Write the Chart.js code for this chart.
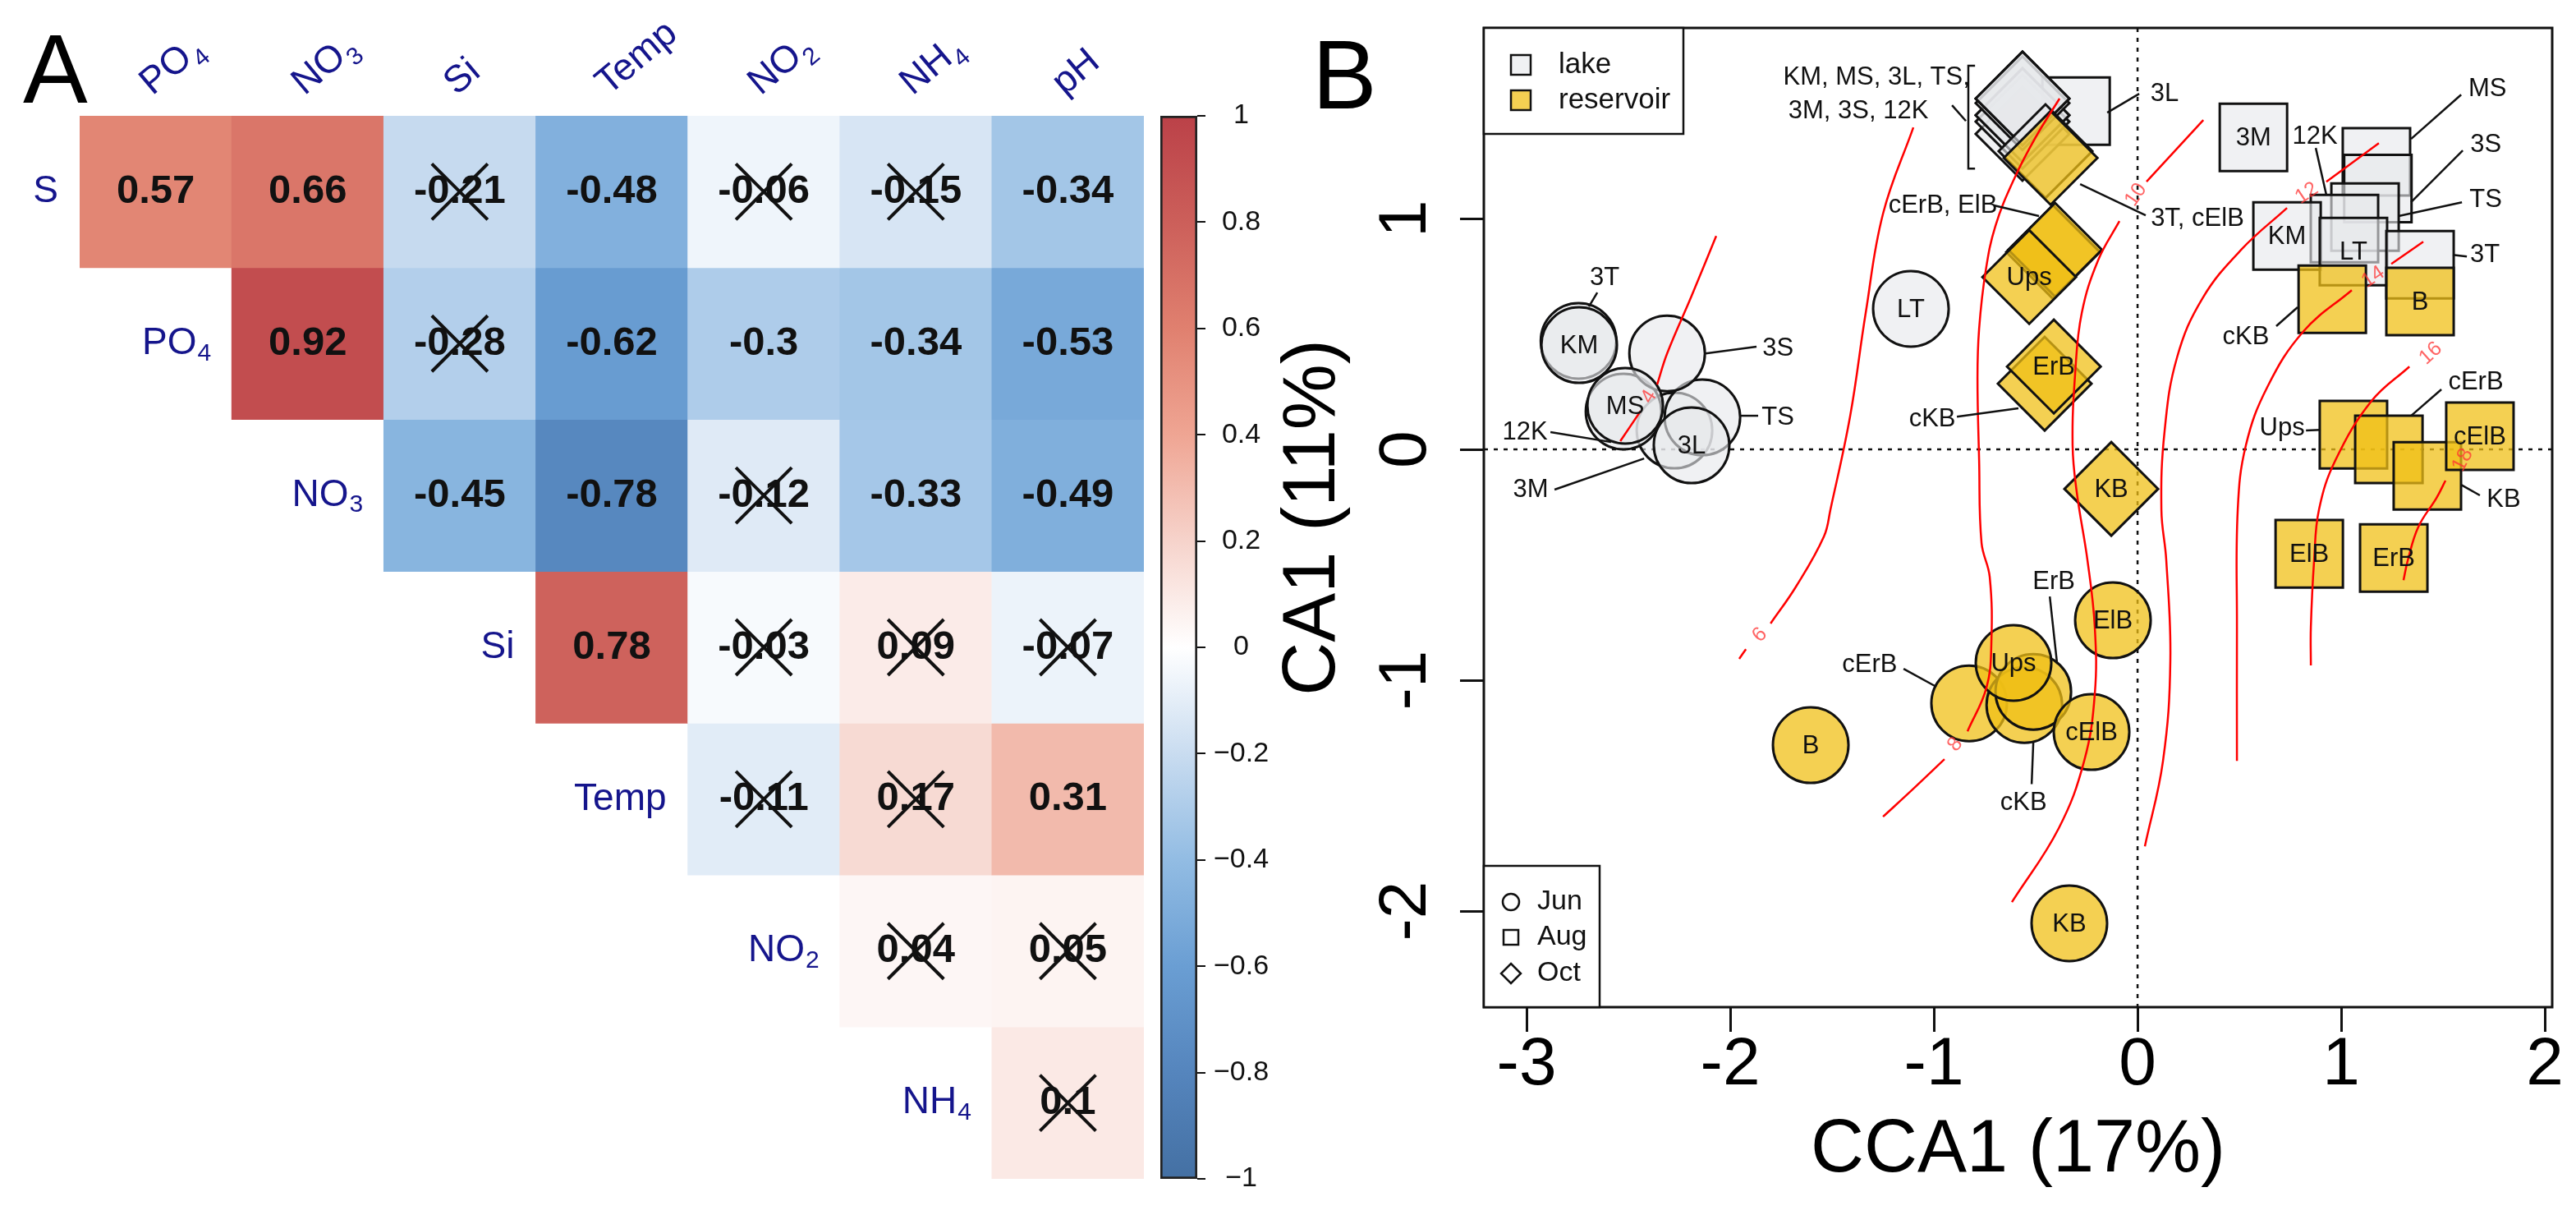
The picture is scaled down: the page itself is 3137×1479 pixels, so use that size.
<!DOCTYPE html>
<html>
<head>
<meta charset="utf-8">
<title>Correlation matrix and CCA ordination</title>
<script src="https://cdn.jsdelivr.net/npm/chart.js@4.4.1/dist/chart.umd.min.js"></script>
<style>
  html, body { margin: 0; padding: 0; background: #fff; }
  #figure { position: relative; width: 3137px; height: 1479px; overflow: hidden; background: #fff; }
  #figure canvas { position: absolute; top: 0; }
  #heat { left: 0; }
  #cca { left: 1540px; }
  #colorbar { left: 1400px; }
</style>
</head>
<body>
<div id="figure">
  <canvas id="heat" width="1410" height="1479"></canvas>
  <canvas id="cca" width="1597" height="1479"></canvas>
  <canvas id="colorbar" width="170" height="1479"></canvas>
</div>
<script>
// ---------- Panel A: correlation matrix ----------
const colVars = ['PO4', 'NO3', 'Si', 'Temp', 'NO2', 'NH4', 'pH'];
const rowVars = ['S', 'PO4', 'NO3', 'Si', 'Temp', 'NO2', 'NH4'];

const corS    = [0.57, 0.66, -0.21, -0.48, -0.06, -0.15, -0.34];
const corPO4  = [0.92, -0.28, -0.62, -0.3, -0.34, -0.53];
const corNO3  = [-0.45, -0.78, -0.12, -0.33, -0.49];
const corSi   = [0.78, -0.03, 0.09, -0.07];
const corTemp = [-0.11, 0.17, 0.31];
const corNO2  = [0.04, 0.05];
const corNH4  = [0.1];

// 1 = not significant (crossed out)
const nsS    = [0, 0, 1, 0, 1, 1, 0];
const nsPO4  = [0, 1, 0, 0, 0, 0];
const nsNO3  = [0, 0, 1, 0, 0];
const nsSi   = [0, 1, 1, 1];
const nsTemp = [1, 1, 0];
const nsNO2  = [1, 1];
const nsNH4  = [1];

const corRows = [corS, corPO4, corNO3, corSi, corTemp, corNO2, corNH4];
const nsRows = [nsS, nsPO4, nsNO3, nsSi, nsTemp, nsNO2, nsNH4];
const colorbarTicks = [-1, -0.8, -0.6, -0.4, -0.2, 0, 0.2, 0.4, 0.6, 0.8, 1];

// ---------- Panel B: CCA ordination ----------
const lakeJunSites = ['3M', '12K', 'TS', '3S', '3T', 'KM', 'MS', '3L', 'LT'];
const lakeJunX = [-2.274, -2.524, -2.137, -2.310, -2.745, -2.742, -2.516, -2.190, -1.113];
const lakeJunY = [0.082, 0.164, 0.139, 0.416, 0.470, 0.452, 0.189, 0.018, 0.609];
const lakeJunInside = ['KM', 'MS', '3L', 'LT'];

const resJunSites = ['B', 'cErB', 'cKB', 'ErB', 'Ups', 'ElB', 'cElB', 'KB'];
const resJunX = [-1.605, -0.827, -0.556, -0.512, -0.609, -0.121, -0.226, -0.335];
const resJunY = [-1.281, -1.100, -1.107, -1.050, -0.925, -0.740, -1.224, -2.053];
const resJunInside = ['B', 'Ups', 'ElB', 'cElB', 'KB'];

const lakeAugSites = ['3L', '3M', 'MS', '3S', 'TS', '12K', 'KM', 'LT', '3T'];
const lakeAugX = [-0.302, 0.569, 1.173, 1.180, 1.117, 1.016, 0.734, 1.060, 1.387];
const lakeAugY = [1.466, 1.352, 1.246, 1.130, 1.007, 0.957, 0.925, 0.857, 0.800];
const lakeAugInside = ['3M', 'KM', 'LT'];

const resAugSites = ['cKB', 'B', 'Ups', 'cErB', 'KB', 'cElB', 'ElB', 'ErB'];
const resAugX = [0.956, 1.387, 1.060, 1.234, 1.423, 1.681, 0.843, 1.258];
const resAugY = [0.651, 0.641, 0.064, 0.000, -0.114, 0.057, -0.452, -0.470];
const resAugInside = ['B', 'cElB', 'ElB', 'ErB'];

const lakeOctSites = ['12K', '3S', 'TS', '3M', '3L', 'MS', 'KM', '3T'];
const lakeOctX = [-0.565, -0.565, -0.565, -0.565, -0.565, -0.565, -0.565, -0.452];
const lakeOctY = [1.367, 1.420, 1.448, 1.448, 1.500, 1.520, 1.520, 1.292];
const lakeOctInside = [];

const resOctSites = ['cElB', 'cErB', 'ElB', 'Ups', 'cKB', 'ErB', 'KB'];
const resOctX = [-0.427, -0.415, -0.405, -0.532, -0.456, -0.411, -0.129];
const resOctY = [1.263, 0.855, 0.865, 0.747, 0.285, 0.359, -0.171];
const resOctInside = ['Ups', 'ErB', 'KB'];

// fitted surface contours (null = gap for the label)
const cont4X  = [-2.069, -2.190, -2.310, -2.359, null, -2.440, -2.540];
const cont4Y  = [0.925, 0.665, 0.416, 0.281, null, 0.167, 0.036];
const cont6X  = [-1.101, -1.250, -1.335, -1.411, -1.508, -1.540, -1.677, -1.802, null, -1.923, -1.956];
const cont6Y  = [1.395, 1.021, 0.591, 0.146, -0.260, -0.377, -0.594, -0.754, null, -0.865, -0.907];
const cont8X  = [-0.383, -0.496, -0.605, -0.698, -0.746, -0.778, -0.786, -0.778, -0.766, -0.726, -0.718, -0.742, -0.835, null, -0.948, -1.101, -1.250];
const cont8Y  = [1.520, 1.359, 1.174, 0.968, 0.772, 0.523, 0.310, -0.046, -0.406, -0.552, -0.843, -1.032, -1.221, null, -1.342, -1.470, -1.591];
const cont10X = [0.323, 0.044, null, -0.089, -0.194, -0.274, -0.306, -0.319, -0.298, -0.246, -0.210, -0.210, -0.262, -0.387, -0.617];
const cont10Y = [1.427, 1.160, null, 0.989, 0.819, 0.591, 0.335, 0.018, -0.189, -0.480, -0.769, -1.060, -1.349, -1.641, -1.961];
const cont12X = [1.185, 0.927, null, 0.734, 0.512, 0.319, 0.194, 0.133, 0.117, 0.141, 0.161, 0.125, 0.036];
const cont12Y = [1.327, 1.160, null, 1.046, 0.868, 0.655, 0.399, 0.082, -0.260, -0.480, -0.915, -1.349, -1.719];
const cont14X = [1.403, 1.246, null, 1.052, 0.815, 0.637, 0.532, 0.492, 0.488, 0.488];
const cont14Y = [0.900, 0.804, null, 0.690, 0.512, 0.270, 0.018, -0.260, -0.769, -1.349];
const cont16X = [1.335, 1.149, 0.972, 0.891, 0.867, 0.851, 0.851];
const cont16Y = [0.359, 0.210, -0.046, -0.260, -0.480, -0.769, -0.936];
const cont18X = [1.512, 1.468, 1.379, 1.327, 1.306];
const cont18Y = [-0.135, -0.210, -0.335, -0.480, -0.566];

const contLevels = ['4', '6', '8', '10', '12', '14', '16', '18'];
const contLabelX = [-2.399, -1.855, -0.895, -0.008, 0.831, 1.157, 1.440, 1.597];
const contLabelY = [0.228, -0.804, -1.278, 1.103, 1.110, 0.747, 0.416, -0.046];

const xTicks = [-3, -2, -1, 0, 1, 2];
const yTicks = [-2, -1, 0, 1];

// text, label x, label y, leader from x/y, leader to x/y (data units)
const callouts = [
  ['3T', -2.617, 0.744, -2.653, 0.680, -2.694, 0.619],
  ['3S', -1.766, 0.438, -1.871, 0.445, -2.121, 0.416],
  ['TS', -1.766, 0.139, -1.863, 0.146, -1.952, 0.146],
  ['12K', -3.008, 0.075, -2.883, 0.075, -2.585, 0.032],
  ['3M', -2.980, -0.174, -2.863, -0.174, -2.423, -0.039],
  ['cErB', -1.315, -0.932, -1.149, -0.950, -0.988, -1.028],
  ['ErB', -0.411, -0.573, -0.431, -0.637, -0.395, -0.929],
  ['cKB', -0.560, -1.530, -0.520, -1.450, -0.512, -1.270],
  ['3L', 0.133, 1.541, 0.008, 1.541, -0.149, 1.459],
  ['MS', 1.718, 1.562, 1.589, 1.537, 1.343, 1.345],
  ['12K', 0.871, 1.356, 0.875, 1.306, 0.927, 1.103],
  ['3S', 1.710, 1.320, 1.597, 1.295, 1.343, 1.071],
  ['TS', 1.710, 1.082, 1.593, 1.071, 1.282, 1.011],
  ['3T', 1.706, 0.843, 1.617, 0.836, 1.548, 0.843],
  ['cKB', 0.532, 0.488, 0.681, 0.534, 0.786, 0.616],
  ['Ups', 0.710, 0.093, 0.827, 0.082, 0.899, 0.085],
  ['cErB', 1.661, 0.292, 1.492, 0.260, 1.343, 0.146],
  ['KB', 1.798, -0.217, 1.681, -0.199, 1.589, -0.153],
  ['cErB, ElB', -0.956, 1.057, -0.706, 1.057, -0.484, 1.011],
  ['cKB', -1.008, 0.132, -0.887, 0.142, -0.585, 0.178],
  ['3T, cElB', 0.294, 1.000, 0.040, 1.014, -0.282, 1.149],
  ['KM, MS, 3L, TS,', -1.282, 1.612, -0.911, 1.491, -0.843, 1.423],
  ['3M, 3S, 12K', -1.371, 1.466, null, null, null, null]
];
const bracketX = [-0.798, -0.831, -0.831, -0.798];
const bracketY = [1.662, 1.662, 1.217, 1.217];

// ---------- styles ----------
const FONT = "'Liberation Sans', Arial, Helvetica, sans-serif";
const NAVY = '#15158c';
const LAKE_FILL = 'rgba(230,233,235,0.62)';
const RES_FILL = 'rgba(240,192,22,0.74)';
const corrPalette = [
  [-1, '#4470a3'], [-0.8, '#5585bd'], [-0.6, '#6a9ed3'], [-0.4, '#92bce3'], [-0.2, '#c9dcf0'],
  [0, '#ffffff'], [0.2, '#f6d3cb'], [0.4, '#efa593'], [0.6, '#e0806f'], [0.8, '#cc5f5a'], [1, '#bb4148']
];

Chart.defaults.font.family = FONT;
Chart.defaults.color = '#000';
Chart.defaults.animation = false;
Chart.defaults.events = [];

function hexRgb(h) {
  return [1, 3, 5].map(i => parseInt(h.slice(i, i + 2), 16));
}
function corrColor(v) {
  for (let k = 1; k < corrPalette.length; k++) {
    const [v1, c1] = corrPalette[k];
    if (v <= v1) {
      const [v0, c0] = corrPalette[k - 1];
      const t = (v - v0) / (v1 - v0);
      const a = hexRgb(c0), b = hexRgb(c1);
      const c = a.map((x, i) => Math.round(x + (b[i] - x) * t));
      return `rgb(${c[0]},${c[1]},${c[2]})`;
    }
  }
  return corrPalette[corrPalette.length - 1][1];
}

// label with trailing digits as subscript (PO4, NO3 ...)
function drawChem(ctx, label, x, y, size, align, color, baseline) {
  const m = label.match(/^(.*?)(\d*)$/);
  const main = m[1], sub = m[2];
  const subSize = Math.round(size * 0.66);
  ctx.fillStyle = color;
  ctx.textBaseline = baseline || 'middle';
  ctx.textAlign = 'left';
  ctx.font = `${size}px ${FONT}`;
  const wMain = ctx.measureText(main).width;
  ctx.font = `${subSize}px ${FONT}`;
  const wSub = sub ? ctx.measureText(sub).width : 0;
  const x0 = align === 'right' ? x - wMain - wSub : x;
  ctx.font = `${size}px ${FONT}`;
  ctx.fillText(main, x0, y);
  if (sub) {
    ctx.font = `${subSize}px ${FONT}`;
    ctx.fillText(sub, x0 + wMain + 1, y + size * 0.26);
  }
}

// ---------- Panel A chart ----------
const heatDatasets = corRows.map((vals, r) => ({
  label: rowVars[r],
  data: colVars.map((c, j) => (j >= r ? [r - 0.5, r + 0.5] : null)),
  backgroundColor: colVars.map((c, j) => (j >= r ? corrColor(vals[j - r]) : 'rgba(0,0,0,0)')),
  values: vals,
  ns: nsRows[r],
  borderWidth: 0,
  barPercentage: 1,
  categoryPercentage: 1,
  grouped: false
}));

const heatText = {
  id: 'heatText',
  afterDatasetsDraw(chart) {
    const { ctx, chartArea } = chart;
    ctx.save();
    chart.data.datasets.forEach((ds, r) => {
      const meta = chart.getDatasetMeta(r);
      meta.data.forEach((el, j) => {
        if (j < r) return;
        const cx = el.x, cy = (el.y + el.base) / 2;
        ctx.fillStyle = '#111';
        ctx.font = `bold 49px ${FONT}`;
        ctx.textAlign = 'center';
        ctx.textBaseline = 'middle';
        ctx.fillText(String(ds.values[j - r]), cx, cy);
        if (ds.ns[j - r]) {
          ctx.strokeStyle = '#111';
          ctx.lineWidth = 4;
          ctx.beginPath();
          ctx.moveTo(cx - 34, cy - 34); ctx.lineTo(cx + 34, cy + 34);
          ctx.moveTo(cx + 34, cy - 34); ctx.lineTo(cx - 34, cy + 34);
          ctx.stroke();
        }
      });
      const first = meta.data[r];
      drawChem(ctx, rowVars[r], first.x - first.width / 2 - 26, (first.y + first.base) / 2, 46, 'right', NAVY);
    });
    const topRow = chart.getDatasetMeta(0);
    colVars.forEach((name, j) => {
      const el = topRow.data[j];
      ctx.save();
      ctx.translate(el.x - 4, chartArea.top - 24);
      ctx.rotate(-40 * Math.PI / 180);
      drawChem(ctx, name, 0, 0, 46, 'left', NAVY, 'alphabetic');
      ctx.restore();
    });
    ctx.fillStyle = '#000';
    ctx.font = `118px ${FONT}`;
    ctx.textAlign = 'left';
    ctx.textBaseline = 'alphabetic';
    ctx.fillText('A', 28, 125);
    ctx.restore();
  }
};

new Chart(document.getElementById('heat'), {
  type: 'bar',
  data: { labels: colVars, datasets: heatDatasets },
  options: {
    responsive: false,
    layout: { padding: { left: 97, right: 17, top: 141, bottom: 44 }, autoPadding: false },
    plugins: { legend: { display: false }, tooltip: { enabled: false } },
    scales: {
      x: { type: 'category', display: false },
      y: { type: 'linear', min: -0.5, max: 6.5, reverse: true, display: false }
    }
  },
  plugins: [heatText]
});

// ---------- colour key ----------
function barGradient(chart) {
  const a = chart.chartArea;
  if (!a) return '#fff';
  const y = chart.scales.y;
  const g = chart.ctx.createLinearGradient(0, y.getPixelForValue(-1), 0, y.getPixelForValue(1));
  corrPalette.forEach(([v, c]) => g.addColorStop((v + 1) / 2, c));
  return g;
}
function keyLabel(v) {
  const r = Math.round(v * 10) / 10;
  if (r === 0) return '0';
  return (r < 0 ? '\u2212' : '') + String(Math.abs(r));
}

new Chart(document.getElementById('colorbar'), {
  type: 'bar',
  data: {
    labels: ['r'],
    datasets: [{
      data: [[-1, 1]],
      backgroundColor: ctx => barGradient(ctx.chart),
      borderColor: '#222',
      borderWidth: 3,
      borderSkipped: false,
      barPercentage: 1,
      categoryPercentage: 1
    }]
  },
  options: {
    responsive: false,
    layout: { padding: { left: 13, right: 10, top: 141, bottom: 44 }, autoPadding: false },
    plugins: { legend: { display: false }, tooltip: { enabled: false } },
    scales: {
      x: { display: false },
      y: {
        position: 'right', min: -1, max: 1,
        afterBuildTicks: s => { s.ticks = colorbarTicks.map(v => ({ value: v })); },
        afterFit: s => { s.width = 102; },
        grid: { drawOnChartArea: false, tickLength: 10, color: '#111', lineWidth: 2 },
        border: { display: false },
        ticks: { crossAlign: 'center', padding: 10, font: { size: 34 }, color: '#111', callback: v => keyLabel(v) }
      }
    }
  }
});

// ---------- Panel B chart ----------
function pointSet(sites, xs, ys, inside, style, radius, fill, order) {
  return {
    data: xs.map((v, i) => ({ x: v, y: ys[i] })),
    sites, inside,
    pointStyle: style,
    pointRadius: radius,
    pointHoverRadius: radius,
    pointBackgroundColor: fill,
    pointBorderColor: '#111',
    pointBorderWidth: 3,
    showLine: false,
    order
  };
}
function contourSet(xs, ys) {
  return {
    data: xs.map((v, i) => ({ x: v, y: ys[i] })),
    showLine: true,
    spanGaps: false,
    pointRadius: 0,
    borderColor: '#ff0000',
    borderWidth: 2.5,
    tension: 0.4,
    order: 0
  };
}

const contourXs = [cont4X, cont6X, cont8X, cont10X, cont12X, cont14X, cont16X, cont18X];
const contourYs = [cont4Y, cont6Y, cont8Y, cont10Y, cont12Y, cont14Y, cont16Y, cont18Y];

const ccaDatasets = [
  ...contourXs.map((xs, k) => contourSet(xs, contourYs[k])),
  pointSet(resOctSites, resOctX, resOctY, resOctInside, 'rectRot', 57, RES_FILL, 1),
  pointSet(resAugSites, resAugX, resAugY, resAugInside, 'rect', 58, RES_FILL, 1),
  pointSet(resJunSites, resJunX, resJunY, resJunInside, 'circle', 46, RES_FILL, 1),
  pointSet(lakeOctSites, lakeOctX, lakeOctY, lakeOctInside, 'rectRot', 57, LAKE_FILL, 2),
  pointSet(lakeAugSites, lakeAugX, lakeAugY, lakeAugInside, 'rect', 58, LAKE_FILL, 2),
  pointSet(lakeJunSites, lakeJunX, lakeJunY, lakeJunInside, 'circle', 46, LAKE_FILL, 2)
];

const ccaExtras = {
  id: 'ccaExtras',
  beforeDatasetsDraw(chart) {
    const { ctx, chartArea: a, scales: { x, y } } = chart;
    const x0 = x.getPixelForValue(0), y0 = y.getPixelForValue(0);
    ctx.save();
    ctx.strokeStyle = '#111';
    ctx.lineWidth = 2.5;
    ctx.setLineDash([5, 7]);
    ctx.beginPath();
    ctx.moveTo(x0, a.top); ctx.lineTo(x0, a.bottom);
    ctx.moveTo(a.left, y0); ctx.lineTo(a.right, y0);
    ctx.stroke();
    ctx.restore();
  },
  afterDatasetsDraw(chart) {
    const { ctx, scales: { x, y } } = chart;
    ctx.save();
    ctx.fillStyle = '#111';
    ctx.font = `31px ${FONT}`;
    ctx.textAlign = 'center';
    ctx.textBaseline = 'middle';
    chart.data.datasets.forEach((ds, i) => {
      if (!ds.sites) return;
      const meta = chart.getDatasetMeta(i);
      ds.sites.forEach((s, j) => {
        if (ds.inside.includes(s)) ctx.fillText(s, meta.data[j].x, meta.data[j].y + 1);
      });
    });
    ctx.strokeStyle = '#111';
    ctx.lineWidth = 2.5;
    callouts.forEach(([t, lx, ly, fx, fy, tx, ty]) => {
      ctx.fillText(t, x.getPixelForValue(lx), y.getPixelForValue(ly));
      if (fx === null) return;
      ctx.beginPath();
      ctx.moveTo(x.getPixelForValue(fx), y.getPixelForValue(fy));
      ctx.lineTo(x.getPixelForValue(tx), y.getPixelForValue(ty));
      ctx.stroke();
    });
    ctx.beginPath();
    bracketX.forEach((bx, k) => {
      const px = x.getPixelForValue(bx), py = y.getPixelForValue(bracketY[k]);
      if (k === 0) ctx.moveTo(px, py); else ctx.lineTo(px, py);
    });
    ctx.stroke();
    // contour labels, turned along the line
    ctx.fillStyle = 'rgba(255,50,50,0.75)';
    ctx.font = `25px ${FONT}`;
    contLevels.forEach((lev, k) => {
      const lx = x.getPixelForValue(contLabelX[k]), ly = y.getPixelForValue(contLabelY[k]);
      const pts = contourXs[k].map((v, i) => (v === null ? null : [x.getPixelForValue(v), y.getPixelForValue(contourYs[k][i])]))
        .filter(p => p !== null)
        .sort((p, q) => Math.hypot(p[0] - lx, p[1] - ly) - Math.hypot(q[0] - lx, q[1] - ly));
      let ang = Math.atan2(pts[1][1] - pts[0][1], pts[1][0] - pts[0][0]);
      if (ang > Math.PI / 2) ang -= Math.PI;
      if (ang < -Math.PI / 2) ang += Math.PI;
      ctx.save();
      ctx.translate(lx, ly);
      ctx.rotate(ang);
      ctx.fillText(lev, 0, 0);
      ctx.restore();
    });
    ctx.restore();
  },
  afterDraw(chart) {
    const { ctx, chartArea: a, scales: { y } } = chart;
    ctx.save();
    ctx.strokeStyle = '#111';
    ctx.lineWidth = 3;
    ctx.strokeRect(a.left, a.top, a.right - a.left, a.bottom - a.top);

    // y tick labels, turned like the original
    ctx.fillStyle = '#000';
    ctx.font = `82px ${FONT}`;
    ctx.textAlign = 'center';
    ctx.textBaseline = 'middle';
    yTicks.forEach(v => {
      ctx.save();
      ctx.translate(a.left - 94, y.getPixelForValue(v));
      ctx.rotate(-Math.PI / 2);
      ctx.fillText(String(v), 0, 0);
      ctx.restore();
    });

    // legend: site type
    ctx.lineWidth = 2.5;
    ctx.fillStyle = '#fff';
    ctx.fillRect(a.left, a.top, 243, 129);
    ctx.strokeRect(a.left, a.top, 243, 129);
    [[LAKE_FILL, 'lake', 45], [RES_FILL, 'reservoir', 88]].forEach(([fill, txt, dy]) => {
      ctx.fillStyle = fill;
      ctx.fillRect(a.left + 33, a.top + dy - 12, 24, 24);
      ctx.strokeRect(a.left + 33, a.top + dy - 12, 24, 24);
      ctx.fillStyle = '#111';
      ctx.font = `35px ${FONT}`;
      ctx.textAlign = 'left';
      ctx.fillText(txt, a.left + 91, a.top + dy);
    });

    // legend: month
    const lb = a.bottom - 172;
    ctx.fillStyle = '#fff';
    ctx.fillRect(a.left, lb, 141, 172);
    ctx.strokeRect(a.left, lb, 141, 172);
    ctx.lineWidth = 2.5;
    const sx = a.left + 33;
    ctx.beginPath(); ctx.arc(sx, lb + 44, 10, 0, Math.PI * 2); ctx.stroke();
    ctx.strokeRect(sx - 9, lb + 87 - 9, 18, 18);
    ctx.beginPath();
    ctx.moveTo(sx, lb + 131 - 12); ctx.lineTo(sx + 12, lb + 131);
    ctx.lineTo(sx, lb + 131 + 12); ctx.lineTo(sx - 12, lb + 131); ctx.closePath(); ctx.stroke();
    ctx.fillStyle = '#111';
    ctx.font = `34px ${FONT}`;
    ctx.textAlign = 'left';
    ctx.fillText('Jun', a.left + 65, lb + 44);
    ctx.fillText('Aug', a.left + 65, lb + 87);
    ctx.fillText('Oct', a.left + 65, lb + 131);

    ctx.fillStyle = '#000';
    ctx.font = `118px ${FONT}`;
    ctx.textBaseline = 'alphabetic';
    ctx.fillText('B', a.left - 209, 132);
    ctx.restore();
  }
};

new Chart(document.getElementById('cca'), {
  type: 'scatter',
  data: { datasets: ccaDatasets },
  options: {
    responsive: false,
    layout: { padding: { left: 0, right: 29, top: 34, bottom: 0 }, autoPadding: false },
    plugins: { legend: { display: false }, tooltip: { enabled: false } },
    scales: {
      x: {
        type: 'linear', min: -3.21, max: 2.036,
        afterBuildTicks: s => { s.ticks = xTicks.map(v => ({ value: v })); },
        afterFit: s => { s.height = 253; },
        grid: { drawOnChartArea: false, tickLength: 30, color: '#111', lineWidth: 3 },
        border: { display: false },
        ticks: { maxRotation: 0, padding: 0, font: { size: 82, lineHeight: 1 }, color: '#000', callback: v => String(v) },
        title: { display: true, text: 'CCA1 (17%)', font: { size: 90, lineHeight: 1 }, padding: { top: 0, bottom: 33 }, color: '#000' }
      },
      y: {
        type: 'linear', min: -2.416, max: 1.826,
        afterBuildTicks: s => { s.ticks = yTicks.map(v => ({ value: v })); },
        afterFit: s => { s.width = 267; },
        grid: { drawOnChartArea: false, tickLength: 29, color: '#111', lineWidth: 3 },
        border: { display: false },
        ticks: { display: false },
        title: { display: true, text: 'CA1 (11%)', font: { size: 90, lineHeight: 1 }, padding: { top: 15, bottom: 0 }, color: '#000' }
      }
    }
  },
  plugins: [ccaExtras]
});
</script>
</body>
</html>
